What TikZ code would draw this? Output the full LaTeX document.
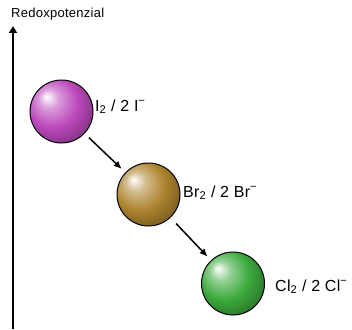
\documentclass[tikz,border=0pt]{standalone}
\usepackage{fontspec}
\setmainfont{Liberation Sans}
\usetikzlibrary{arrows.meta}
\definecolor{ballpurple}{HTML}{BC48BC}
\definecolor{ballbrown}{HTML}{AD842F}
\definecolor{ballgreen}{HTML}{3CAA3C}
\pgfdeclareradialshading{shadepurple}{\pgfpoint{-12bp}{12bp}}{color(0bp)=(white); color(8bp)=(white!45!ballpurple); color(20bp)=(ballpurple); color(30bp)=(ballpurple!75!black); color(50bp)=(ballpurple!55!black)}
\pgfdeclareradialshading{shadebrown}{\pgfpoint{-12bp}{12bp}}{color(0bp)=(white); color(8bp)=(white!45!ballbrown); color(20bp)=(ballbrown); color(30bp)=(ballbrown!75!black); color(50bp)=(ballbrown!55!black)}
\pgfdeclareradialshading{shadegreen}{\pgfpoint{-12bp}{12bp}}{color(0bp)=(white); color(8bp)=(white!45!ballgreen); color(20bp)=(ballgreen); color(30bp)=(ballgreen!75!black); color(50bp)=(ballgreen!55!black)}
\begin{document}
\begin{tikzpicture}[x=1pt,y=-1pt,
  ballnode/.style={circle,draw=black,line width=1pt,minimum size=63pt,inner sep=0pt},
  lbl/.style={anchor=base west,inner sep=0pt,font=\fontsize{16}{18}\selectfont\addfontfeature{LetterSpace=2}},
  axlbl/.style={anchor=base west,inner sep=0pt,font=\fontsize{13}{15}\selectfont\addfontfeature{LetterSpace=2}},
  conn/.style={line width=1.5pt,-{Latex[length=8pt,width=7pt]}}]
\useasboundingbox (0,0) rectangle (352,329);
\coordinate (axbot) at (13,329);
\coordinate (axtop) at (13,26);
\draw[line width=2pt,-{Triangle[length=7pt,width=8pt]}] (axbot) -- (axtop);
\node[axlbl] (axl) at (11,18) {Redoxpotenzial};
\node[ballnode,shading=shadepurple] (b1) at (61.5,111.5) {};
\node[ballnode,shading=shadebrown] (b2) at (148.5,194.5) {};
\node[ballnode,shading=shadegreen] (b3) at (233,283.5) {};
\node[lbl] (l1) at (95,111) {I\textsubscript{2} / 2 I\textsuperscript{−}};
\node[lbl] (l2) at (183,197) {Br\textsubscript{2} / 2 Br\textsuperscript{−}};
\node[lbl] (l3) at (275,291) {Cl\textsubscript{2} / 2 Cl\textsuperscript{−}};
\draw[conn,shorten <=6pt,shorten >=5pt] (b1) -- (b2);
\draw[conn,shorten <=8pt,shorten >=5pt] (b2) -- (b3);
\end{tikzpicture}
\end{document}
